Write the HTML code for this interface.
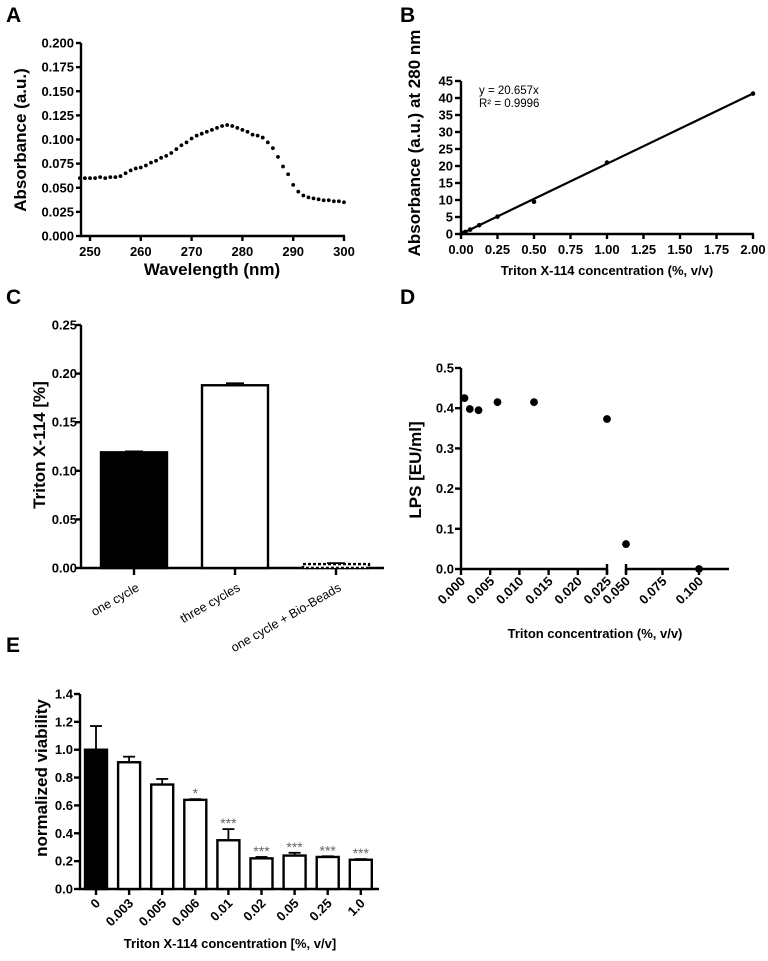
<!DOCTYPE html>
<html><head><meta charset="utf-8"><style>
body{margin:0;background:#fff;}
svg{display:block;font-family:"Liberation Sans",Arial,sans-serif;}
.t{font-size:13px;font-weight:bold;}
.lab{font-size:17px;font-weight:bold;}
.pl{font-size:21px;font-weight:bold;}
</style></head><body>
<svg id="fig" width="768" height="961" viewBox="0 0 768 961"></svg>
<script>
// Panel A data
const aWavelength=[248,249,250,251,252,253,254,255,256,257,258,259,260,261,262,263,264,265,266,267,268,269,270,271,272,273,274,275,276,277,278,279,280,281,282,283,284,285,286,287,288,289,290,291,292,293,294,295,296,297,298,299,300];
const aAbsorbance=[0.060,0.060,0.060,0.060,0.061,0.060,0.061,0.061,0.062,0.065,0.068,0.070,0.071,0.073,0.076,0.078,0.081,0.083,0.086,0.090,0.094,0.097,0.101,0.104,0.106,0.108,0.110,0.112,0.114,0.115,0.114,0.112,0.110,0.108,0.105,0.104,0.102,0.097,0.091,0.082,0.072,0.064,0.053,0.046,0.042,0.040,0.039,0.038,0.037,0.037,0.036,0.036,0.035];
const aYTicks=["0.000","0.025","0.050","0.075","0.100","0.125","0.150","0.175","0.200"];
const aXTicks=[250,260,270,280,290,300];
// Panel B data
const bConc=[0.015,0.03,0.0625,0.125,0.25,0.5,1.0,2.0];
const bAbs=[0.3,0.6,1.3,2.6,5.1,9.5,21,41.3];
const bSlope=20.657;
const bYTicks=[0,5,10,15,20,25,30,35,40,45];
const bXTicks=["0.00","0.25","0.50","0.75","1.00","1.25","1.50","1.75","2.00"];
// Panel C data
const cCats=["one cycle","three cycles","one cycle + Bio-Beads"];
const cVals=[0.119,0.188,0.004];
const cErr=[0.001,0.002,0.001];
const cYTicks=["0.00","0.05","0.10","0.15","0.20","0.25"];
// Panel D data
const dConc=[0.0006,0.0015,0.003,0.00625,0.0125,0.025,0.05,0.1];
const dLPS=[0.425,0.398,0.395,0.415,0.415,0.373,0.062,0.0];
const dYTicks=["0.0","0.1","0.2","0.3","0.4","0.5"];
const dXTicksLow=["0.000","0.005","0.010","0.015","0.020","0.025"];
const dXTicksHigh=["0.050","0.075","0.100"];
// Panel E data
const eCats=["0","0.003","0.005","0.006","0.01","0.02","0.05","0.25","1.0"];
const eVals=[1.0,0.91,0.75,0.64,0.35,0.22,0.24,0.23,0.21];
const eErr=[0.17,0.04,0.04,0.005,0.08,0.01,0.02,0.005,0.005];
const eStars=["","","","*","***","***","***","***","***"];
const eYTicks=["0.0","0.2","0.4","0.6","0.8","1.0","1.2","1.4"];

const svg=document.getElementById('fig');
const NS="http://www.w3.org/2000/svg";
function el(tag,attrs,txt){const e=document.createElementNS(NS,tag);for(const k in attrs)e.setAttribute(k,attrs[k]);if(txt!==undefined)e.textContent=txt;svg.appendChild(e);return e;}
function line(x1,y1,x2,y2,w){return el('line',{x1,y1,x2,y2,stroke:'#000','stroke-width':w||2.4});}

[["A",6,22],["B",400,22],["C",6,304],["D",400,304],["E",6,652]].forEach(p=>{
 const t=el('text',{x:p[1],y:p[2],class:'pl'},p[0]);
 
 
});

// ---- Panel A
{
const xs=v=>90+(v-250)*(344-90)/50;
const y=v=>236-v*(236-43)/0.2;
line(81,43,81,237);line(80,236,345,236);
aYTicks.forEach(s=>{const v=+s;line(76,y(v),81,y(v));const t=el('text',{x:74,y:y(v)+4.5,'text-anchor':'end',class:'t'},s);});
aXTicks.forEach(v=>{line(xs(v),236,xs(v),241);const t=el('text',{x:xs(v),y:256,'text-anchor':'middle',class:'t'},v);});
aWavelength.forEach((w,i)=>{const c=el('circle',{cx:xs(w),cy:y(aAbsorbance[i]),r:1.9,fill:'#000'});});
let t=el('text',{x:212,y:275,'text-anchor':'middle',class:'lab','font-size':'15px'},'Wavelength (nm)');
t=el('text',{x:0,y:0,'text-anchor':'middle',class:'lab',transform:'translate(26,140) rotate(-90)'},'Absorbance (a.u.)');
}
// ---- Panel B
{
const x=v=>461+v*(753-461)/2;
const y=v=>234-v*(234-81)/45;
line(461,81,461,235);line(460,234,754,234);
bYTicks.forEach(v=>{line(455,y(v),461,y(v));const t=el('text',{x:453,y:y(v)+4.5,'text-anchor':'end',class:'t'},v);});
bXTicks.forEach(s=>{const v=+s;line(x(v),234,x(v),239);const t=el('text',{x:x(v),y:254,'text-anchor':'middle',class:'t'},s);});
let l=line(x(0),y(0),x(2),y(bSlope*2),2.2);
bConc.forEach((c,i)=>{const p=el('circle',{cx:x(c),cy:y(bAbs[i]),r:2.3,fill:'#000'});});
let t=el('text',{x:479,y:94,'font-size':'11.5px'},'y = '+bSlope+'x');
t=el('text',{x:479,y:107,'font-size':'11.5px'},'R² = 0.9996');
t=el('text',{x:607,y:275,'text-anchor':'middle',class:'t','font-size':'14px'},'Triton X-114 concentration (%, v/v)');
t=el('text',{x:0,y:0,'text-anchor':'middle',class:'lab',transform:'translate(420,143) rotate(-90)','font-size':'16px'},'Absorbance (a.u.) at 280 nm');
}
// ---- Panel C
{
const y=v=>568-v*(568-325)/0.25;
const cx=i=>134+i*101;
line(81,325,81,569);line(80,568,384,568);
cYTicks.forEach(s=>{const v=+s;line(76,y(v),81,y(v));const t=el('text',{x:77,y:y(v)+4.5,'text-anchor':'end',class:'t','font-size':'13.5px'},s);});
cVals.forEach((v,i)=>{
 const fill=i===0?'#000':'#fff';
 const top=y(v+cErr[i]);line(cx(i),top,cx(i),y(v),1.8);line(cx(i)-9,top,cx(i)+9,top,1.8);
 const r=el('rect',{x:cx(i)-33,y:y(v),width:66,height:568-y(v),fill,stroke:'#000','stroke-width':2.4,'stroke-dasharray':i===2?'3 2':'none'});
 
 line(cx(i),568,cx(i),575);
 const t=el('text',{x:cx(i)+6,y:590,'text-anchor':'end','font-size':'12.5px',transform:`rotate(-30 ${cx(i)+6} 590)`},cCats[i]);
 
});
const t=el('text',{x:0,y:0,'text-anchor':'middle',class:'lab',transform:'translate(45,445) rotate(-90)','font-size':'18px'},'Triton X-114  [%]');
}
// ---- Panel D
{
const y=v=>569-v*(569-368)/0.5;
const x=v=>v<=0.025?461+v*(607-461)/0.025:626+(v-0.05)*(699-626)/0.05;
line(461,368,461,570);line(460,569,607,569);line(626,569,729,569);
line(607,564,607,574);line(626,564,626,574);
dYTicks.forEach(s=>{const v=+s;line(455,y(v),461,y(v));const t=el('text',{x:454,y:y(v)+4.5,'text-anchor':'end',class:'t','font-size':'13.5px'},s);});
dXTicksLow.concat(dXTicksHigh).forEach(s=>{const v=+s;const xx=x(v);line(xx,569,xx,575);
 const t=el('text',{x:xx+5,y:582,'text-anchor':'end',class:'t','font-size':'12.5px',transform:`rotate(-45 ${xx+5} 582)`},s);});
dConc.forEach((c,i)=>{const p=el('circle',{cx:x(c),cy:y(dLPS[i]),r:3.9,fill:'#000'});});
let t=el('text',{x:595,y:638,'text-anchor':'middle',class:'t','font-size':'14.5px'},'Triton concentration (%, v/v)');
t=el('text',{x:0,y:0,'text-anchor':'middle',class:'lab',transform:'translate(421,470) rotate(-90)'},'LPS [EU/ml]');
}
// ---- Panel E
{
const y=v=>889-v*(889-694)/1.4;
const cx=i=>96+i*33.1;
line(80,694,80,890);line(79,889,379,889);
eYTicks.forEach(s=>{const v=+s;line(74,y(v),80,y(v));const t=el('text',{x:73,y:y(v)+4.5,'text-anchor':'end',class:'t','font-size':'13.5px'},s);});
eVals.forEach((v,i)=>{
 const top=y(v+eErr[i]);line(cx(i),top,cx(i),y(v),1.8);line(cx(i)-6,top,cx(i)+6,top,1.8);
 const r=el('rect',{x:cx(i)-11,y:y(v),width:22,height:889-y(v),fill:i===0?'#000':'#fff',stroke:'#000','stroke-width':2.4});
 
 line(cx(i),889,cx(i),895);
 const t=el('text',{x:cx(i)+5,y:904,'text-anchor':'end',class:'t','font-size':'12.5px',transform:`rotate(-45 ${cx(i)+5} 904)`},eCats[i]);
 
 if(eStars[i]){const s=el('text',{x:cx(i),y:top-1,'text-anchor':'middle',fill:'#666','font-size':'14px'},eStars[i]);}
});
let t=el('text',{x:230,y:948,'text-anchor':'middle',class:'t','font-size':'14.5px'},'Triton X-114 concentration [%, v/v]');
t=el('text',{x:0,y:0,'text-anchor':'middle',class:'lab',transform:'translate(47,778) rotate(-90)','font-size':'18px'},'normalized viability');
}
</script>
</body></html>
